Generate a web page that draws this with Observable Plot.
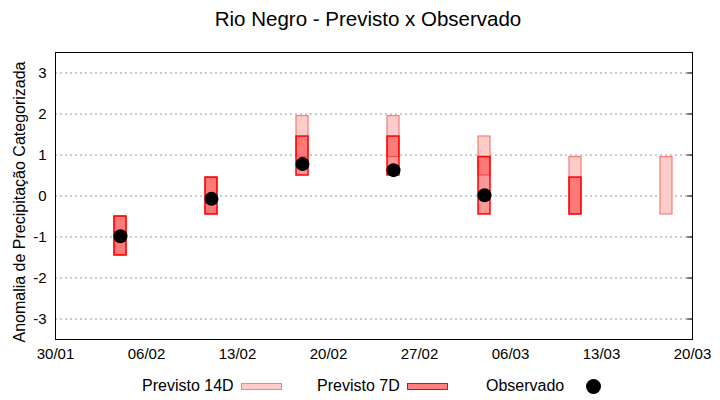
<!DOCTYPE html>
<html><head><meta charset="utf-8">
<script src="https://cdn.jsdelivr.net/npm/d3@7"></script>
<script src="https://cdn.jsdelivr.net/npm/@observablehq/plot@0.6"></script>
<style>
body{margin:0;background:#fff;font-family:"Liberation Sans",Arial,sans-serif;color:#000;}
#wrap{position:relative;width:720px;height:400px;overflow:hidden;}
#title{position:absolute;left:0;width:736px;top:7px;text-align:center;font-size:20.5px;}
#chart{position:absolute;left:0;top:40px;}
#ylab{position:absolute;left:20px;top:202px;transform:translate(-50%,-50%) rotate(-90deg);white-space:nowrap;font-size:16px;}
.lt{position:absolute;top:376px;font-size:16px;line-height:20px;white-space:nowrap;}
.sw{position:absolute;top:383px;width:39px;height:5px;}
#ld{position:absolute;left:586px;top:379px;width:15px;height:15px;border-radius:50%;background:#000;}
</style></head><body>
<div id="wrap">
<div id="title">Rio Negro - Previsto x Observado</div>
<div id="chart"></div>
<div id="ylab">Anomalia de Precipitação Categorizada</div>
<span class="lt" style="left:142px">Previsto 14D</span>
<div class="sw" style="left:241px;background:#ffcccc;border:1px solid #f4837d"></div>
<span class="lt" style="left:317px">Previsto 7D</span>
<div class="sw" style="left:407px;background:#ff8080;border:1px solid #ff0000"></div>
<span class="lt" style="left:486px">Observado</span>
<div id="ld"></div>
</div>
<script>
// Forecast week dates
const dates = ["2023-02-04","2023-02-11","2023-02-18","2023-02-25","2023-03-04","2023-03-11","2023-03-18"];
// Previsto 14D ranges
const prev14Low  = [-1.45, -0.45, 0.95, 0.95, 0.50, -0.45, -0.45];
const prev14High = [-0.50,  0.45, 1.95, 1.95, 1.45,  0.95,  0.95];
// Previsto 7D ranges (last week not available)
const prev7Low  = [-1.45, -0.45, 0.50, 0.50, -0.45, -0.45, null];
const prev7High = [-0.50,  0.45, 1.45, 1.45,  0.95,  0.45, null];
// Observado
const obsDates  = ["2023-02-04","2023-02-11","2023-02-18","2023-02-25","2023-03-04"];
const obsValues = [-0.98, -0.07, 0.78, 0.63, 0.02];
// Axis ticks
const xTicks = ["2023-01-30","2023-02-06","2023-02-13","2023-02-20","2023-02-27","2023-03-06","2023-03-13","2023-03-20"];
const yTicks = [-3, -2, -1, 0, 1, 2, 3];

const parse = d3.utcParse("%Y-%m-%d");
const halfW = 0.46 * 864e5;
const data14 = dates.map((d, i) => ({date: parse(d), low: prev14Low[i], high: prev14High[i]}));
const data7 = dates.map((d, i) => ({date: parse(d), low: prev7Low[i], high: prev7High[i]})).filter(d => d.low != null);
const obs = obsDates.map((d, i) => ({date: parse(d), value: obsValues[i]}));
const xT = xTicks.map(parse);

const chart = Plot.plot({
  width: 720, height: 332,
  marginLeft: 55, marginRight: 28, marginTop: 12, marginBottom: 33,
  style: {fontFamily: "Liberation Sans, Arial, sans-serif", fontSize: "15px", color: "#000", background: "#fff"},
  x: {type: "utc", domain: [xT[0], xT[xT.length - 1]]},
  y: {domain: [-3.5, 3.5]},
  marks: [
    Plot.ruleY(yTicks, {stroke: "#999", strokeDasharray: "2,3", strokeWidth: 1}),
    Plot.rect(data14, {x1: d => new Date(+d.date - halfW), x2: d => new Date(+d.date + halfW), y1: "low", y2: "high", fill: "#fdcbc9", stroke: "#f4837d", strokeWidth: 1.3}),
    Plot.rect(data7, {x1: d => new Date(+d.date - halfW), x2: d => new Date(+d.date + halfW), y1: "low", y2: "high", fill: "#ff0000", fillOpacity: 0.4, stroke: "#ff0000", strokeWidth: 1.5}),
    Plot.dot(obs, {x: "date", y: "value", r: 7, fill: "#000", stroke: "none"}),
    Plot.tickY(yTicks, {insetLeft: 632, stroke: "#000", strokeWidth: 1}),
    Plot.frame({stroke: "#000", strokeWidth: 1}),
    Plot.axisX({ticks: xT, tickFormat: d3.utcFormat("%d/%m"), tickSize: 0, tickPadding: 9, label: null}),
    Plot.axisY({ticks: yTicks, tickFormat: d => String(d), tickSize: 0, tickPadding: 9, label: null})
  ]
});
document.getElementById("chart").appendChild(chart);
</script>
</body></html>
